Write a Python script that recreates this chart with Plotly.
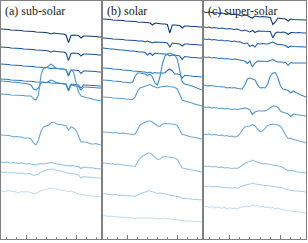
import plotly.graph_objects as go

# wavelength grid (arbitrary units across each panel)
WAVE = [0, 2.5, 5, 7.5, 10, 12.5, 15, 17.5, 20, 22.5,
        25, 27.5, 30, 32.5, 35, 37.5, 40, 42.5, 45, 47.5,
        50, 52.5, 55, 57.5, 60, 62.5, 65, 67.5, 70, 72.5,
        75, 77.5, 80, 82.5, 85, 87.5, 90, 92.5, 95, 97.5, 100]

PANEL_TITLES = ["(a) sub-solar", "(b) solar", "(c) super-solar"]

# offset flux (arbitrary units), top spectrum first
sub_1 = [210, 210, 209.5, 209.5, 209, 209, 209, 208.5, 208.5, 208,
         208, 208, 207.5, 207.5, 207, 207, 207, 206.5, 206.5, 206,
         205, 206, 205.5, 205.5, 205, 205, 204, 196.5, 203.5, 204,
         204, 203.5, 201, 203, 203, 203, 203, 202.5, 202.5, 202, 202]
sub_2 = [192, 192, 191.5, 191.5, 191, 191, 191, 190.5, 190.5, 190,
         190, 190, 189.5, 189.5, 189, 189, 189, 188.5, 188.5, 188,
         187, 188, 187.5, 187.5, 187, 187, 186, 178.5, 185.5, 186,
         186, 185.5, 183, 185, 185, 185, 185, 184.5, 184.5, 184, 184]
sub_3 = [175, 175, 174.5, 174.5, 174, 174, 174, 173.5, 173.5, 173,
         173, 173, 172.5, 172.5, 172, 172, 172, 171.5, 171.5, 171,
         170.5, 171, 170.5, 170.5, 170, 170, 169.5, 163, 169, 169,
         169, 168.5, 165.5, 168, 168, 168, 168, 167.5, 167.5, 167, 167]
sub_4 = [160, 160, 159.5, 159.5, 159, 159, 159, 158.5, 158.5, 158,
         158, 158, 157.5, 157.5, 157, 157, 157, 156.5, 156.5, 156.5,
         156, 156, 156, 155.5, 155.5, 155.5, 155, 149, 155, 154.5,
         154.5, 154, 151, 154, 154, 153.5, 153.5, 153.5, 153, 153, 153]
sub_5 = [158, 158, 157.5, 157.5, 157, 157, 156.5, 156.5, 156, 156,
         155.5, 155, 154, 150, 149, 151, 156, 157, 156, 157.5,
         159, 158, 156.5, 156, 155.5, 155, 154.5, 148, 154, 153.5,
         153, 152.5, 149, 152, 152, 151.5, 151.5, 151.5, 151, 151, 151]
sub_6 = [145, 145, 144.5, 144.5, 144, 144, 144, 143.5, 143.5, 143.5,
         143, 143, 143, 140, 139, 144, 164, 171, 171, 173,
         175, 173, 171, 170.5, 170, 170, 169, 165, 169, 167,
         157, 147, 143, 142, 141.5, 141, 140, 139.5, 139, 138.5, 138]
sub_7 = [104, 104, 103.5, 103.5, 103, 102, 102.5, 102.5, 102, 101,
         101, 101, 100, 96, 94, 99, 108, 112, 113, 114,
         116, 117, 115.5, 114.5, 114.5, 113.5, 113, 109, 112, 111,
         109, 103, 97, 97, 97, 96, 95, 95, 95.5, 94.5, 94]
sub_8 = [77, 76.5, 77, 76.5, 76, 76.5, 76, 75.5, 76, 75.5,
         75, 75.5, 75, 74, 74, 75, 75.5, 75, 75.5, 76,
         76.5, 76, 75, 75, 74.5, 74, 74, 73, 73.5, 73,
         73, 72.5, 70.5, 72, 71.5, 71.5, 71, 71, 70.5, 70.5, 70]
sub_9 = [67, 66.5, 67, 66.5, 66, 66.5, 66, 65.5, 66, 65.5,
         65, 65.5, 65, 63.5, 64, 65, 67, 68, 68.5, 69.5,
         70, 69.5, 68.5, 68, 67.5, 67, 66.5, 65.5, 66, 65,
         65, 64, 61, 62.5, 62, 62, 61.5, 61.5, 61, 61, 61]
sub_10 = [48, 47.5, 48, 48.5, 47.5, 48, 47, 46, 47.5, 47,
          47.5, 47, 46.5, 45, 45.5, 47, 48.5, 49, 50, 50.5,
          51, 50.5, 50, 49.5, 49, 48.5, 48.5, 47.5, 48, 47,
          46.5, 45, 44, 44.5, 43.5, 43.5, 43, 43, 42.5, 42.5, 42]

sol_1 = [220, 220, 219.5, 219.5, 219, 219, 219, 218.5, 218.5, 218,
         218, 218, 217.5, 217.5, 217, 217, 217, 216.5, 216.5, 216,
         214, 216, 215.5, 215.5, 215, 215, 214.5, 206, 214, 214,
         213.5, 213.5, 211, 213, 213, 212.5, 212.5, 212.5, 212, 212, 212]
sol_2 = [201, 201, 200.5, 200.5, 200, 200, 200, 199.5, 199.5, 199,
         199, 199, 198.5, 198.5, 198, 198, 198, 197, 198, 197,
         196, 197, 197, 196.5, 196.5, 196.5, 196, 192, 196, 195.5,
         195.5, 195, 193, 195, 195, 194.5, 194.5, 194.5, 194, 194, 194]
sol_3 = [191, 190.5, 190.5, 190, 190, 189.5, 189.5, 189, 189, 188.5,
         188.5, 188, 188, 187.5, 187.5, 187, 187, 186.5, 184, 186,
         183.5, 186, 185.5, 185.5, 185, 185, 184.5, 183, 184, 184,
         183.5, 183, 179.5, 182.5, 182, 182, 181.5, 181.5, 181, 181, 181]
sol_4 = [171, 171, 170.5, 170.5, 170, 170, 169.5, 169.5, 169, 169,
         168.5, 168.5, 168, 168, 167.5, 167.5, 167, 167, 166, 167,
         165.5, 166.5, 166, 166, 166, 166, 168.5, 170, 168, 165,
         165, 164.5, 161, 163.5, 163.5, 163, 163, 162.5, 162.5, 162, 162]
sol_5 = [159, 159, 158.5, 158.5, 158, 158, 157.5, 157.5, 157, 157,
         156.5, 156, 157, 163, 166, 166, 165.5, 165, 163.5, 165,
         162, 156, 154, 162, 175, 183, 185, 186, 185, 184,
         180, 168, 157, 155, 154.5, 154, 153, 152, 151, 150, 149]
sol_6 = [142, 142, 141.5, 141.5, 141, 141, 141, 140.5, 140.5, 140,
         140, 140, 139.5, 142, 148, 151, 152, 153, 154, 154.5,
         153, 152, 151, 152, 152.5, 153, 153, 152.5, 152, 151.5,
         150, 145, 139, 138, 137.5, 137, 136, 135, 134.5, 134, 133]
sol_7 = [107, 107, 106.5, 106.5, 106, 106.5, 106, 105.5, 106, 105.5,
         105, 105, 104.5, 105, 110, 114, 115.5, 116.5, 118, 118,
         117, 115, 113, 112.5, 115, 115.5, 115.5, 115, 115, 114.5,
         113.5, 109, 104.5, 104, 103, 102.5, 102, 101.5, 101, 100.5, 100]
sol_8 = [76, 76, 75.5, 75, 75.5, 74.5, 75, 74.5, 74, 74,
         73.5, 73, 73, 72.5, 77, 81, 83, 84, 86, 86,
         84, 81.5, 79.5, 80, 82, 82.5, 82, 82, 81.5, 81,
         79.5, 75, 71, 70.5, 70, 69.5, 69, 68.5, 68, 67.5, 67]
sol_9 = [45, 45.5, 44.5, 45, 44, 44.5, 44, 43.5, 44, 43,
         43.5, 43, 43, 42.5, 44, 45.5, 46.5, 47, 48, 48,
         47, 46.5, 45.5, 46, 45.5, 45, 44.5, 44.5, 44, 43.5,
         43, 42, 40.5, 41, 40.5, 40, 40, 39.5, 39.5, 39, 39]
sol_10 = [23, 23.5, 22.5, 23, 22.5, 22, 22.5, 21.5, 22, 21.5,
          21, 21.5, 21, 20.5, 21, 21, 21.5, 21, 21.5, 21,
          21, 20.5, 20, 20.5, 20, 20, 20.5, 20, 19.5, 19.5,
          19, 19, 18.5, 18.5, 18, 18, 17.5, 17.5, 17.5, 17, 17]

sup_1 = [227, 226.5, 227, 226.5, 226, 226.5, 225.5, 226, 225.5, 225,
         225.5, 224.5, 225, 224.5, 224, 223, 224, 223.5, 222, 221,
         223, 222.5, 222, 222.5, 222, 221.5, 221.5, 214.5, 217, 221,
         220.5, 220.5, 220, 218, 220, 219.5, 219.5, 219.5, 219, 219, 219]
sup_2 = [212, 211.5, 212, 211, 211.5, 211, 210.5, 211, 210.5, 210,
         210.5, 210, 209.5, 210, 209, 208, 209, 208, 207, 208.5,
         206.5, 208, 208, 207.5, 208, 207.5, 207.5, 201, 206, 207,
         206.5, 207, 206.5, 204.5, 206.5, 206.5, 206, 206.5, 206, 206, 206]
sup_3 = [200, 199.5, 200, 199, 199.5, 199, 198.5, 199, 198, 198.5,
         198, 197.5, 198, 197, 197.5, 196, 195.5, 196, 192.5, 194,
         192, 195.5, 195, 195.5, 195, 195, 196, 197, 195.5, 194.5,
         194.5, 194, 193.5, 191.5, 193, 192.5, 192.5, 192, 192, 192, 192]
sup_4 = [182, 181.5, 182, 181, 181.5, 181, 180.5, 181, 180, 180.5,
         180, 179.5, 180, 179.5, 179, 179, 178, 175.5, 178, 172,
         176, 178, 178, 177.5, 177.5, 177.5, 178.5, 179.5, 178, 177,
         177, 176.5, 176.5, 173.5, 176.5, 176, 176, 176, 175.5, 176, 176]
sup_5 = [154, 153, 153.5, 153.5, 153, 152.5, 152.5, 152.5, 152, 151,
         151.5, 151, 151.5, 150.5, 150.5, 150, 154, 160, 161, 160,
         159, 154, 151, 151.5, 151, 155, 163, 166, 166.5, 161,
         153, 150, 149.5, 148.5, 146, 148, 146.5, 145, 144, 143, 142]
sup_6 = [132, 131.5, 132, 131, 131.5, 131, 130.5, 131, 130, 130.5,
         130, 129.5, 130, 129.5, 130, 130.5, 131, 130.5, 129, 124.5,
         127, 128, 128, 127.5, 128, 129.5, 131, 133, 133, 131.5,
         128, 126.5, 126, 125, 122.5, 125, 124.5, 124, 123.5, 123.5, 123]
sup_7 = [105, 104.5, 105, 104, 104.5, 104, 103.5, 104, 103, 103.5,
         102.5, 103, 102, 102.5, 105, 109, 112, 112.5, 113, 114.5,
         113, 110, 107.5, 108, 111, 113.5, 114.5, 115, 114.5, 114,
         112.5, 109, 104, 100.5, 101, 99.5, 99, 98, 97.5, 97, 96]
sup_8 = [73, 72.5, 73, 72, 72.5, 72, 71.5, 72, 71, 71.5,
         71, 70.5, 71, 70.5, 72, 74, 75.5, 77, 77.5, 79,
         77.5, 76.5, 76, 75, 75.5, 75, 75, 74.5, 74, 73.5,
         72.5, 71.5, 70, 68, 69, 68, 67.5, 67, 66.5, 66.5, 66]
sup_9 = [53, 52.5, 53, 52, 52.5, 52, 52.5, 51.5, 52, 51,
         51.5, 51, 51.5, 50.5, 52, 53, 54, 54.5, 55, 56,
         55, 54.5, 54, 54, 53.5, 53.5, 53, 52.5, 52.5, 52,
         51.5, 51, 49.5, 49, 49, 48.5, 48, 48, 47.5, 47.5, 47]
sup_10 = [32, 33, 31.5, 32.5, 31, 32, 31.5, 30.5, 32, 30,
          31.5, 30.5, 31, 30, 31.5, 32, 32.5, 33, 32.5, 34,
          33, 33.5, 32, 32.5, 31.5, 32, 31, 31.5, 30.5, 31,
          30, 29.5, 29, 28, 28.5, 27.5, 27.5, 27, 26.5, 26.5, 26]

PANELS = [
    [sub_1, sub_2, sub_3, sub_4, sub_5, sub_6, sub_7, sub_8, sub_9, sub_10],
    [sol_1, sol_2, sol_3, sol_4, sol_5, sol_6, sol_7, sol_8, sol_9, sol_10],
    [sup_1, sup_2, sup_3, sup_4, sup_5, sup_6, sup_7, sup_8, sup_9, sup_10],
]

COLORS = ["#0b3b7a", "#16509a", "#2163ae", "#2f77bd", "#3f8ac9",
          "#549bd2", "#6aaad9", "#8bbfe2", "#a7cfe9", "#c4def1"]

SERIF = "Liberation Serif, DejaVu Serif"

fig = go.Figure()
for p, spectra in enumerate(PANELS):
    suffix = "" if p == 0 else str(p + 1)
    for k, flux in enumerate(spectra):
        fig.add_trace(go.Scatter(
            x=WAVE, y=flux, mode="lines",
            line=dict(color=COLORS[k], width=1.1),
            xaxis="x" + suffix, yaxis="y" + suffix,
            showlegend=False, hoverinfo="skip"))

W, H = 308, 243
ml, mr, mt, mb = 1, 2, 1, 4
pw = W - ml - mr
domains = [[0, 100 / pw], [102 / pw, 201 / pw], [203 / pw, 1]]

layout = dict(width=W, height=H, margin=dict(l=ml, r=mr, t=mt, b=mb),
              paper_bgcolor="white", plot_bgcolor="white", showlegend=False,
              font=dict(family=SERIF, size=12, color="#222"))
annotations = []
for p in range(3):
    suffix = "" if p == 0 else str(p + 1)
    layout["xaxis" + suffix] = dict(
        domain=domains[p], range=[0, 100], anchor="y" + suffix,
        showline=True, mirror=True, linecolor="#808080", linewidth=1,
        ticks="inside", tickvals=[25, 75], ticklen=4, tickwidth=1,
        tickcolor="#777", showticklabels=False, showgrid=False, zeroline=False,
        minor=dict(ticks="inside", tick0=5, dtick=10, ticklen=2,
                   tickcolor="#888", showgrid=False))
    layout["yaxis" + suffix] = dict(
        domain=[0, 1], range=[0, 238], anchor="x" + suffix,
        showline=True, mirror=True, linecolor="#808080", linewidth=1,
        ticks="", showticklabels=False, showgrid=False, zeroline=False)
    annotations.append(dict(
        text=PANEL_TITLES[p], xref="x" + suffix + " domain",
        yref="y" + suffix + " domain", x=0, y=1, xanchor="left",
        yanchor="top", xshift=2, yshift=-1, showarrow=False,
        font=dict(family=SERIF, size=12, color="#222")))
layout["annotations"] = annotations
fig.update_layout(**layout)
fig.write_html("out.html", config={"displayModeBar": False},
               post_script="document.body.style.margin='0';"
                           "document.body.style.overflow='hidden';")
